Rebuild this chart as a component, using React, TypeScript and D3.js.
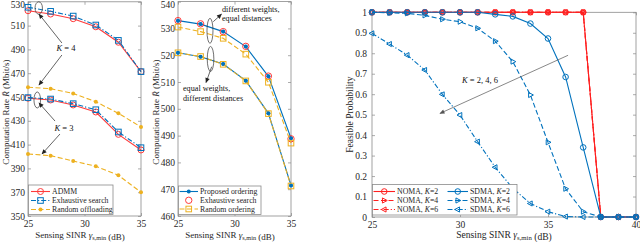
import { useEffect, useRef } from "react";
import * as d3 from "d3";

// ---- values ----
const sinrA = [25, 27, 29, 31, 33, 35];
const admmK4 = [522.5, 519.7, 515.8, 509, 496, 471.3];
const exhK4 = [525.4, 522, 518, 510.5, 497.6, 471.3];
const randK4 = [458.2, 457, 453, 446, 436.3, 424.8];
const admmK3 = [449, 447.5, 443.3, 437.4, 418.6, 405.5];
const exhK3 = [449.5, 448.3, 444.4, 439.3, 420.6, 407.4];
const randK3 = [402.1, 400.7, 396.2, 391.8, 384.2, 370];

const propUp = [532.9, 531.6, 528.8, 523.2, 512.1, 489];
const exhUp = [532.9, 531.7, 528.8, 523.3, 512.2, 488.8];
const randUp = [530.5, 528.8, 526.3, 520.4, 509.9, 487.2];
const propLow = [520.9, 519.4, 516.7, 510.5, 498.3, 471.4];
const randLow = [520.9, 519.5, 516.6, 510.4, 498.2, 471.2];

const sinrR = [25, 26, 27, 28, 29, 30, 31, 32, 33, 34, 35, 36, 37, 38, 39, 40];
const nomaK2 = [1, 1, 1, 1, 1, 1, 1, 1, 1, 1, 1, 1, 1, 0, 0, 0];
const nomaK4 = [1, 1, 1, 1, 1, 1, 1, 1, 1, 1, 1, 1, 1, 0, 0, 0];
const nomaK6 = [1, 1, 1, 1, 1, 1, 1, 1, 1, 1, 1, 1, 1, 0, 0, 0];
const sdmaK2 = [1, 1, 1, 1, 1, 1, 1, 0.99, 0.98, 0.945, 0.872, 0.684, 0.34, 0, 0, 0];
const sdmaK4 = [1, 0.997, 0.995, 0.985, 0.966, 0.954, 0.922, 0.859, 0.759, 0.596, 0.365, 0.138, 0.026, 0, 0, 0];
const sdmaK6 = [0.897, 0.845, 0.791, 0.718, 0.599, 0.498, 0.368, 0.243, 0.14, 0.066, 0.026, 0.002, 0, 0, 0, 0];

const xTicksA = [25, 30, 35];
const yTicksA = [350, 370, 390, 410, 430, 450, 470, 490, 510, 530];
const yTicksB = [460, 470, 480, 490, 500, 510, 520, 530, 540];
const xTicksR = [25, 30, 35, 40];
const yTicksR = [0, 0.1, 0.2, 0.3, 0.4, 0.5, 0.6, 0.7, 0.8, 0.9, 1];

const BLUE = "#0072BD";
const RED = "#FF3B3B";
const RED2 = "#FF1F1F";
const YELLOW = "#EDB120";
const FONT = "'Liberation Serif','Times New Roman',serif";
const AXIS = "#8a8a8a";
const INK = "#262626";

const DASH = "5,2.5";
const DASHDOT = "5,2,1.2,2";

type Part = string | { it: string } | { sub: string };

const rich = (t: any, parts: Part[]) => {
  parts.forEach((p) => {
    if (typeof p === "string") t.append("tspan").text(p);
    else if ("it" in p) t.append("tspan").attr("font-style", "italic").text(p.it);
    else {
      t.append("tspan").attr("font-size", "70%").attr("dy", "0.3em").text(p.sub);
      t.append("tspan").attr("dy", "-0.21em").text("");
    }
  });
};

const marker = (g: any, type: string, cx: number, cy: number, color: string, r: number) => {
  if (type === "circle") {
    g.append("circle").attr("cx", cx).attr("cy", cy).attr("r", r)
      .attr("fill", "none").attr("stroke", color).attr("stroke-width", 1);
  } else if (type === "dot") {
    g.append("circle").attr("cx", cx).attr("cy", cy).attr("r", r).attr("fill", color);
  } else if (type === "square") {
    g.append("rect").attr("x", cx - r).attr("y", cy - r).attr("width", 2 * r).attr("height", 2 * r)
      .attr("fill", "none").attr("stroke", color).attr("stroke-width", 1);
  } else if (type === "tri-r" || type === "tri-l") {
    const s = type === "tri-r" ? 1 : -1;
    g.append("path")
      .attr("d", `M${cx + s * r},${cy}L${cx - s * r * 0.6},${cy - r * 0.85}L${cx - s * r * 0.6},${cy + r * 0.85}Z`)
      .attr("fill", "none").attr("stroke", color).attr("stroke-width", 1);
  }
};

const plot = (g: any, x: any, y: any, xs: number[], ys: number[], s: any) => {
  if (s.line) {
    const line = d3.line<number>().x((_, i) => x(xs[i])).y((d) => y(d));
    g.append("path").datum(ys).attr("d", line).attr("fill", "none")
      .attr("stroke", s.color).attr("stroke-width", 1.1).attr("stroke-dasharray", s.dash || null);
  }
  ys.forEach((v, i) => marker(g, s.marker, x(xs[i]), y(v), s.color, s.r));
};

const frame = (g: any, x: any, y: any, xTicks: number[], yTicks: number[], pad: number, fs: number) => {
  const [x0, x1] = x.range();
  const [yb, yt] = y.range();
  g.append("rect").attr("x", x0).attr("y", yt).attr("width", x1 - x0).attr("height", yb - yt)
    .attr("fill", "#fff").attr("stroke", AXIS).attr("stroke-width", 0.8);
  const fmt = (d: any) => String(d);
  const axes = [
    g.append("g").attr("transform", `translate(0,${yb})`)
      .call(d3.axisBottom(x).tickValues(xTicks).tickSize(-3).tickSizeOuter(0).tickPadding(4).tickFormat(fmt)),
    g.append("g").attr("transform", `translate(0,${yt})`)
      .call(d3.axisTop(x).tickValues(xTicks).tickSize(-3).tickSizeOuter(0).tickFormat(() => "")),
    g.append("g").attr("transform", `translate(${x0},0)`)
      .call(d3.axisLeft(y).tickValues(yTicks).tickSize(-3).tickSizeOuter(0).tickPadding(pad).tickFormat(fmt)),
    g.append("g").attr("transform", `translate(${x1},0)`)
      .call(d3.axisRight(y).tickValues(yTicks).tickSize(-3).tickSizeOuter(0).tickFormat(() => "")),
  ];
  axes.forEach((a) => {
    a.select(".domain").remove();
    a.selectAll("line").attr("stroke", AXIS).attr("stroke-width", 0.7);
    a.selectAll("text").attr("font-family", FONT).attr("font-size", fs).attr("fill", INK);
  });
  // keep the topmost tick label inside the picture
  axes[2].selectAll("text").filter((d: any) => y(d) < fs / 2).attr("dy", `${(fs / 2 - y(yTicks[yTicks.length - 1])) / fs + 0.32}em`);
};

const legend = (g: any, box: number[], rows: any[], fs: number) => {
  g.append("rect").attr("x", box[0]).attr("y", box[1]).attr("width", box[2]).attr("height", box[3])
    .attr("fill", "#fff").attr("stroke", AXIS).attr("stroke-width", 0.8);
  rows.forEach((r) => {
    if (r.line) {
      g.append("line").attr("x1", r.x0).attr("x2", r.x1).attr("y1", r.y).attr("y2", r.y)
        .attr("stroke", r.color).attr("stroke-width", 1.1).attr("stroke-dasharray", r.dash || null);
    }
    marker(g, r.marker, (r.x0 + r.x1) / 2, r.y, r.color, r.r);
    const t = g.append("text").attr("x", r.x1 + 2).attr("y", r.y).attr("dy", "0.33em")
      .attr("font-family", FONT).attr("font-size", fs).attr("fill", INK);
    rich(t, r.label);
  });
};

const ellipse = (g: any, cx: number, cy: number, rx: number, ry: number) =>
  g.append("ellipse").attr("cx", cx).attr("cy", cy).attr("rx", rx).attr("ry", ry)
    .attr("fill", "none").attr("stroke", "#333").attr("stroke-width", 0.7);

const arrow = (g: any, a: number[], b: number[], color = "#222") =>
  g.append("line").attr("x1", a[0]).attr("y1", a[1]).attr("x2", b[0]).attr("y2", b[1])
    .attr("stroke", color).attr("stroke-width", 0.7).attr("marker-end", color === "#222" ? "url(#arr)" : "url(#arrg)");

const note = (g: any, x: number, y: number, parts: Part[], fs: number, anchor = "start") => {
  const t = g.append("text").attr("x", x).attr("y", y).attr("text-anchor", anchor)
    .attr("font-family", FONT).attr("font-size", fs).attr("fill", "#111");
  rich(t, parts);
};

const xLabel: Part[] = ["Sensing SINR ", { it: "γ" }, { sub: "s,min" }, " (dB)"];
const yLabel: Part[] = ["Computation Rate ", { it: "R\u0304" }, " (Mbit/s)"];

const App = () => {
  const svgRef = useRef<SVGSVGElement | null>(null);

  useEffect(() => {
    if (!svgRef.current) return;
    const svg = d3.select(svgRef.current);
    svg.selectAll("*").remove();

    const defs = svg.append("defs");
    [["arr", "#222"], ["arrg", "#555"]].forEach(([id, c]) => {
      defs.append("marker").attr("id", id).attr("viewBox", "0 0 10 10").attr("refX", 9).attr("refY", 5)
        .attr("markerUnits", "userSpaceOnUse").attr("markerWidth", 6).attr("markerHeight", 5)
        .attr("orient", "auto").append("path").attr("d", "M0,0.5L10,5L0,9.5Z").attr("fill", c);
    });

    // ---------- panel (a) ----------
    const ga = svg.append("g");
    const xa = d3.scaleLinear().domain([25, 35]).range([28, 141]);
    const ya = d3.scaleLinear().domain([350, 530]).range([216, 1.8]);
    frame(ga, xa, ya, xTicksA, yTicksA, 3, 9.5);
    const sA = {
      admm: { line: true, color: RED, marker: "circle", r: 3 },
      exh: { line: true, color: BLUE, dash: DASHDOT, marker: "square", r: 2.8 },
      rand: { line: true, color: YELLOW, dash: DASH, marker: "dot", r: 2 },
    };
    plot(ga, xa, ya, sinrA, randK4, sA.rand);
    plot(ga, xa, ya, sinrA, randK3, sA.rand);
    plot(ga, xa, ya, sinrA, admmK4, sA.admm);
    plot(ga, xa, ya, sinrA, admmK3, sA.admm);
    plot(ga, xa, ya, sinrA, exhK4, sA.exh);
    plot(ga, xa, ya, sinrA, exhK3, sA.exh);

    ellipse(ga, xa(25.95), ya(524.8), 3.7, 6.2);
    ellipse(ga, xa(25.82), ya(447.5), 3.3, 8);
    note(ga, xa(28.36), ya(488.7), [{ it: "K" }, " = 4"], 8.5, "middle");
    arrow(ga, [xa(28.0), ya(495.4)], [xa(25.97), ya(519.7)]);
    arrow(ga, [xa(28.0), ya(485.3)], [xa(25.97), ya(460.1)]);
    note(ga, xa(28.19), ya(421.4), [{ it: "K" }, " = 3"], 8.5, "middle");
    arrow(ga, [xa(27.83), ya(418.9)], [xa(26.24), ya(402.1)]);
    arrow(ga, [xa(27.39), ya(429.8)], [xa(25.97), ya(445)]);

    legend(ga, [28.5, 185, 84.5, 29.5], [
      { ...sA.admm, x0: 31, x1: 50, y: 191.5, label: ["ADMM"] },
      { ...sA.exh, x0: 31, x1: 50, y: 200.5, label: ["Exhaustive search"] },
      { ...sA.rand, x0: 31, x1: 50, y: 209.5, label: ["Random offloading"] },
    ], 7.8);

    const tla = ga.append("text").attr("x", 80).attr("y", 238).attr("text-anchor", "middle")
      .attr("font-family", FONT).attr("font-size", 9).attr("fill", INK);
    rich(tla, xLabel);
    const tya = ga.append("text").attr("transform", "translate(8.5,112) rotate(-90)").attr("text-anchor", "middle")
      .attr("font-family", FONT).attr("font-size", 9).attr("fill", INK);
    rich(tya, yLabel);

    // ---------- panel (b) ----------
    const gb = svg.append("g");
    const xb = d3.scaleLinear().domain([25, 35]).range([178, 291]);
    const yb = d3.scaleLinear().domain([460, 540]).range([216, 1.6]);
    frame(gb, xb, yb, xTicksA, yTicksB, 3, 9.5);
    const sB = {
      prop: { line: true, color: BLUE, marker: "dot", r: 2 },
      exh: { line: false, color: RED, marker: "circle", r: 3.2 },
      rand: { line: true, color: YELLOW, dash: DASH, marker: "square", r: 2.8 },
    };
    plot(gb, xb, yb, sinrA, propUp, sB.prop);
    plot(gb, xb, yb, sinrA, propLow, sB.prop);
    plot(gb, xb, yb, sinrA, exhUp, sB.exh);
    plot(gb, xb, yb, sinrA, randUp, sB.rand);
    plot(gb, xb, yb, sinrA, randLow, sB.rand);
    // blue dots stay visible on top of the open markers
    propLow.forEach((v, i) => marker(gb, "dot", xb(sinrA[i]), yb(v), BLUE, 1.8));
    propUp.forEach((v, i) => marker(gb, "dot", xb(sinrA[i]), yb(v), BLUE, 1.8));

    ellipse(gb, xb(27.83), yb(529.1), 3, 12.5);
    ellipse(gb, xb(27.88), yb(518.6), 3.3, 12.5);
    arrow(gb, [xb(28.12), yb(532.5)], [xb(28.85), yb(535.3)]);
    note(gb, xb(28.89), yb(536.3), ["different weights,"], 8.2);
    note(gb, xb(28.89), yb(532.6), ["equal distances"], 8.2);
    arrow(gb, [xb(27.98), yb(515.7)], [xb(27.48), yb(509.8)]);
    note(gb, xb(25.44), yb(506.5), ["equal weights,"], 8.2);
    note(gb, xb(25.44), yb(502.9), ["different distances"], 8.2);

    legend(gb, [178.5, 186, 82.5, 28.5], [
      { ...sB.prop, x0: 179.5, x1: 198, y: 191.5, label: ["Proposed ordering"] },
      { ...sB.exh, x0: 179.5, x1: 198, y: 200.3, label: ["Exhaustive search"] },
      { ...sB.rand, x0: 179.5, x1: 198, y: 209, label: ["Random ordering"] },
    ], 7.8);

    const tlb = gb.append("text").attr("x", 230).attr("y", 238).attr("text-anchor", "middle")
      .attr("font-family", FONT).attr("font-size", 9).attr("fill", INK);
    rich(tlb, xLabel);
    const tyb = gb.append("text").attr("transform", "translate(158.5,112) rotate(-90)").attr("text-anchor", "middle")
      .attr("font-family", FONT).attr("font-size", 9).attr("fill", INK);
    rich(tyb, yLabel);

    // ---------- panel (c) ----------
    const gc = svg.append("g");
    const xr = d3.scaleLinear().domain([25, 40]).range([372, 636]);
    const yr = d3.scaleLinear().domain([0, 1]).range([217, 12.3]);
    frame(gc, xr, yr, xTicksR, yTicksR, 5, 9.5);
    const sR = {
      n2: { line: true, color: RED2, marker: "circle", r: 2.8 },
      n4: { line: true, color: RED2, dash: DASH, marker: "tri-r", r: 3 },
      n6: { line: true, color: RED2, dash: DASHDOT, marker: "tri-l", r: 3 },
      s2: { line: true, color: BLUE, marker: "circle", r: 2.8 },
      s4: { line: true, color: BLUE, dash: DASH, marker: "tri-r", r: 3 },
      s6: { line: true, color: BLUE, dash: DASHDOT, marker: "tri-l", r: 3 },
    };
    plot(gc, xr, yr, sinrR, nomaK2, sR.n2);
    plot(gc, xr, yr, sinrR, nomaK4, sR.n4);
    plot(gc, xr, yr, sinrR, nomaK6, sR.n6);
    plot(gc, xr, yr, sinrR, sdmaK2, sR.s2);
    plot(gc, xr, yr, sinrR, sdmaK4, sR.s4);
    plot(gc, xr, yr, sinrR, sdmaK6, sR.s6);

    arrow(gc, [xr(36.14), yr(0.79)], [xr(28.86), yr(0.506)], "#555");
    note(gc, xr(30.11), yr(0.655), [{ it: "K" }, " = 2, 4, 6"], 8.5);

    legend(gc, [372.5, 184.5, 144.5, 30.5], [
      { ...sR.n2, x0: 373.5, x1: 395, y: 191.5, label: ["NOMA, ", { it: "K" }, "=2"] },
      { ...sR.n4, x0: 373.5, x1: 395, y: 200.5, label: ["NOMA, ", { it: "K" }, "=4"] },
      { ...sR.n6, x0: 373.5, x1: 395, y: 209.5, label: ["NOMA, ", { it: "K" }, "=6"] },
      { ...sR.s2, x0: 447.5, x1: 468, y: 191.5, label: ["SDMA, ", { it: "K" }, "=2"] },
      { ...sR.s4, x0: 447.5, x1: 468, y: 200.5, label: ["SDMA, ", { it: "K" }, "=4"] },
      { ...sR.s6, x0: 447.5, x1: 468, y: 209.5, label: ["SDMA, ", { it: "K" }, "=6"] },
    ], 7.8);

    const tlc = gc.append("text").attr("x", 504).attr("y", 238).attr("text-anchor", "middle")
      .attr("font-family", FONT).attr("font-size", 9.6).attr("fill", INK);
    rich(tlc, xLabel);
    gc.append("text").attr("transform", "translate(353,114.7) rotate(-90)").attr("text-anchor", "middle")
      .attr("font-family", FONT).attr("font-size", 9.5).attr("fill", INK).text("Feasible Probability");
  }, []);

  return (
    <svg
      ref={svgRef}
      width={640}
      height={242}
      style={{ position: "absolute", left: 0, top: 0, background: "#fff" }}
    />
  );
};

export default App;
